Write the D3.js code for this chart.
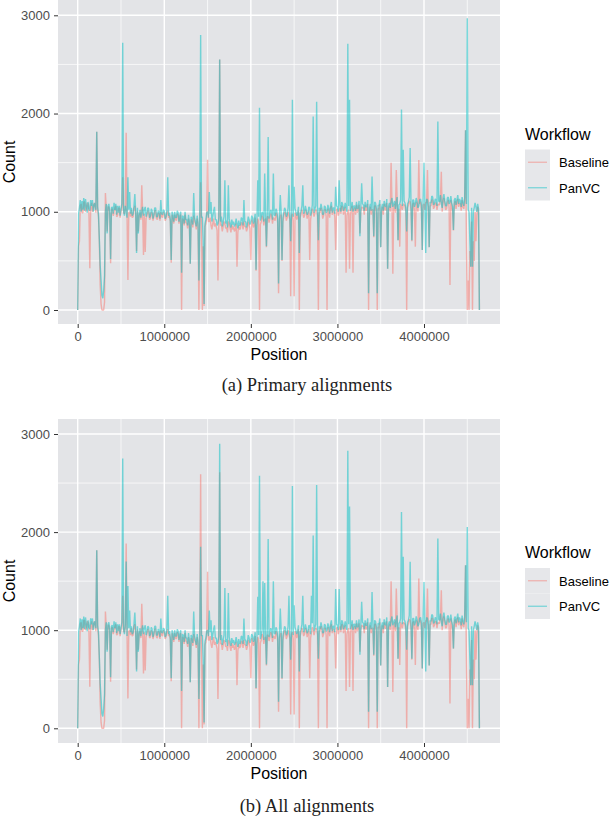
<!DOCTYPE html>
<html><head><meta charset="utf-8">
<script src="https://cdn.jsdelivr.net/npm/d3@7/dist/d3.min.js"></script>
<style>body{margin:0;background:#fff} svg{display:block}</style>
</head><body><svg id="c" width="610" height="825"></svg>
<script>
// ---- data ----
const binSize = 10000; // genome window (bp) between successive values
const seriesNames = ["Baseline", "PanVC"];
const seriesColors = ["#F8766D", "#00BFC4"];
const yTicks = [0, 1000, 2000, 3000];
const yMinor = [500, 1500, 2500];
const xTicks = [0, 1000000, 2000000, 3000000, 4000000];
const xMinor = [500000, 1500000, 2500000, 3500000, 4500000];
const captions = ["(a) Primary alignments", "(b) All alignments"];

const baselineA = [
 0, 650, 700, 1060, 1080, 990, 990, 1100, 1100, 1000, 1030, 1090, 1080, 980, 424, 1040, 1090, 1000, 1040, 1090,
 1060, 990, 1815, 1020, 950, 700, 250, 60, 0, 0, 0, 80, 1190, 1030, 800, 1050, 1050, 980, 475, 1020,
 1030, 960, 990, 1040, 1060, 950, 960, 1030, 1040, 940, 1000, 1050, 1350, 990, 980, 1030, 1805, 960, 305, 990,
 1000, 950, 1020, 940, 950, 1030, 1060, 970, 600, 1010, 800, 960, 990, 920, 1270, 1000, 560, 980, 590, 930,
 960, 1010, 1000, 920, 930, 1000, 980, 910, 950, 1010, 1010, 930, 920, 990, 980, 910, 1000, 950, 940, 1000,
 980, 910, 930, 990, 1010, 940, 960, 900, 480, 970, 930, 880, 970, 920, 910, 980, 960, 880, 930, 970,
 0, 930, 920, 860, 970, 890, 880, 830, 930, 870, 470, 920, 900, 840, 960, 900, 880, 820, 930, 860,
 0, 870, 1300, 900, 0, 650, 40, 850, 880, 940, 1530, 900, 900, 940, 860, 820, 880, 930, 850, 880,
 850, 810, 300, 880, 2550, 860, 870, 800, 850, 900, 880, 830, 840, 790, 900, 880, 830, 790, 870, 820,
 850, 800, 820, 880, 440, 790, 860, 820, 830, 890, 880, 820, 900, 850, 850, 800, 830, 900, 870, 830,
 510, 920, 890, 840, 870, 940, 400, 860, 930, 900, 0, 870, 900, 960, 940, 860, 920, 930, 640, 950,
 950, 890, 930, 980, 960, 880, 940, 930, 910, 990, 970, 890, 170, 920, 960, 970, 500, 900, 950, 1000,
 980, 910, 940, 1000, 960, 920, 140, 960, 980, 910, 140, 990, 970, 920, 950, 1010, 0, 940, 980, 1020,
 990, 940, 960, 1020, 1000, 930, 970, 1010, 510, 920, 980, 1030, 1000, 950, 990, 1020, 1010, 960, 0, 1000,
 990, 1040, 1010, 930, 960, 1020, 1020, 950, 0, 1030, 1000, 940, 1030, 1060, 970, 1000, 1010, 940, 610, 1020,
 1030, 960, 1000, 1040, 980, 1060, 1050, 970, 1010, 1050, 380, 960, 1000, 1020, 420, 970, 1030, 1060, 380, 1020,
 1040, 970, 1070, 990, 1010, 1070, 780, 1000, 1050, 1040, 1040, 970, 1070, 1010, 1020, 1080, 0, 1000, 1050, 970,
 1020, 1020, 740, 1060, 1060, 990, 0, 1030, 1030, 1080, 640, 1000, 1050, 970, 1080, 1020, 1020, 1090, 420, 1020,
 1060, 1000, 1500, 1100, 370, 1040, 1080, 990, 1425, 1110, 710, 1030, 645, 1080, 1050, 1020, 1080, 1070, 1060, 1000,
 0, 1040, 1070, 1110, 1100, 1020, 700, 1080, 1090, 1010, 645, 1100, 1070, 1000, 1527, 1080, 1100, 1030, 610, 1070,
 1080, 1020, 1100, 1090, 1425, 1010, 640, 1060, 1060, 1120, 1120, 1030, 1050, 1090, 1090, 1020, 1080, 1070, 1070, 1130,
 1408, 1000, 1100, 1140, 1080, 1020, 1030, 1100, 1120, 1040, 254, 1120, 1060, 1010, 810, 1080, 1110, 1030, 1090, 1130,
 1050, 1090, 1080, 1010, 1120, 1050, 1030, 1100, 1830, 700, 0, 300, 0, 600, 440, 900, 0, 700, 500, 1000,
 700, 960, 1050, 1000, 0
];
const panvcA = [
 0, 980, 1040, 1120, 1000, 1110, 1020, 1140, 1010, 1130, 1060, 990, 1100, 1030, 1010, 1120, 1060, 1120, 1000, 1070,
 1090, 1020, 1815, 1050, 980, 720, 450, 300, 150, 120, 200, 350, 1000, 1080, 780, 1060, 1080, 1000, 520, 1040,
 1050, 980, 1090, 1020, 1080, 970, 1060, 990, 1060, 960, 1030, 1080, 2720, 1010, 960, 1060, 1000, 940, 1350, 1020,
 1200, 980, 1040, 960, 980, 1060, 1180, 990, 580, 1040, 780, 980, 1020, 940, 1000, 1050, 960, 1020, 1050, 950,
 990, 1040, 1030, 940, 960, 1030, 1010, 930, 970, 1040, 1040, 950, 950, 1010, 1000, 930, 1120, 980, 970, 1020,
 1010, 930, 950, 1020, 1350, 960, 990, 920, 510, 1000, 960, 900, 1000, 940, 940, 1010, 990, 900, 960, 1000,
 380, 960, 950, 880, 1000, 920, 920, 860, 970, 900, 470, 950, 930, 870, 1190, 940, 900, 850, 960, 890,
 300, 900, 2800, 940, 950, 700, 60, 880, 920, 990, 1000, 940, 1200, 980, 1100, 900, 950, 1010, 1050, 920,
 920, 860, 880, 940, 2550, 900, 950, 850, 900, 950, 1320, 880, 910, 840, 1270, 930, 880, 840, 920, 870,
 900, 850, 870, 930, 880, 830, 910, 860, 870, 940, 930, 860, 1120, 900, 900, 840, 880, 950, 920, 870,
 900, 960, 940, 880, 920, 980, 410, 900, 1320, 950, 2060, 910, 950, 1000, 980, 900, 1390, 960, 650, 990,
 1760, 930, 980, 1020, 1000, 920, 1390, 970, 960, 1030, 1010, 930, 270, 960, 1170, 1000, 510, 940, 990, 1040,
 1020, 950, 970, 1040, 1270, 960, 700, 1000, 2140, 950, 1255, 1030, 1000, 960, 990, 1050, 580, 980, 1010, 1060,
 1270, 980, 1000, 1060, 1020, 970, 990, 1050, 1040, 960, 1000, 1070, 1970, 990, 1030, 1060, 2120, 1000, 710, 1040,
 1010, 1080, 1040, 970, 980, 1060, 1050, 990, 1000, 1070, 1030, 980, 1060, 1100, 990, 1040, 1040, 980, 1255, 1060,
 1050, 1000, 1320, 1070, 1000, 1100, 1080, 1010, 1040, 1090, 1040, 1000, 2710, 1060, 2140, 1010, 1050, 1100, 1000, 1060,
 1060, 1010, 1100, 1030, 1040, 1110, 750, 1040, 1290, 1080, 1070, 1010, 1100, 1050, 1050, 1120, 170, 1040, 1080, 1010,
 1360, 1060, 750, 1100, 1090, 1030, 170, 1070, 1060, 1120, 640, 1040, 1080, 1010, 1110, 1060, 1050, 1130, 420, 1060,
 1090, 1040, 1100, 1140, 1050, 1080, 1110, 1030, 1100, 1150, 710, 1070, 1080, 1120, 2040, 1060, 1630, 1110, 1090, 1040,
 800, 1080, 1100, 1150, 1650, 1060, 710, 1120, 1120, 1050, 1080, 1140, 1100, 1040, 1060, 1120, 1130, 1070, 610, 1110,
 1500, 1060, 580, 1130, 1120, 1050, 640, 1100, 1090, 1160, 1150, 1070, 1080, 1130, 1120, 1060, 1920, 1110, 1100, 1170,
 1090, 1040, 1130, 1180, 1110, 1060, 1060, 1140, 1150, 1080, 1100, 1160, 1090, 1050, 814, 1120, 1140, 1070, 1120, 1170,
 1080, 1130, 1110, 1050, 1150, 1090, 1060, 1140, 1830, 1080, 2970, 1020, 1000, 700, 440, 1040, 440, 1000, 1040, 1090,
 1050, 1000, 1080, 1030, 0
];
const baselineB = [
 0, 650, 700, 1060, 1080, 990, 990, 1100, 1100, 1000, 1030, 1090, 1080, 980, 424, 1040, 1090, 1000, 1040, 1090,
 1060, 990, 1815, 1020, 950, 700, 250, 60, 0, 0, 0, 80, 1190, 1030, 800, 1050, 1050, 980, 475, 1020,
 1030, 960, 990, 1040, 1060, 950, 960, 1030, 1040, 940, 1000, 1050, 1350, 990, 980, 1030, 1883, 960, 305, 990,
 1000, 950, 1020, 940, 950, 1030, 1060, 970, 600, 1010, 800, 960, 990, 920, 1270, 1000, 560, 980, 590, 930,
 960, 1010, 1000, 920, 930, 1000, 980, 910, 950, 1010, 1010, 930, 920, 990, 980, 910, 1000, 950, 940, 1000,
 980, 910, 930, 990, 1010, 940, 960, 900, 480, 970, 930, 880, 970, 920, 910, 980, 960, 880, 930, 970,
 0, 930, 920, 860, 970, 890, 880, 830, 930, 870, 470, 920, 900, 840, 960, 900, 880, 820, 930, 860,
 0, 870, 2590, 900, 0, 650, 40, 850, 880, 940, 1595, 900, 900, 940, 860, 820, 880, 930, 850, 880,
 850, 810, 300, 880, 2610, 860, 870, 800, 850, 900, 880, 830, 840, 790, 900, 880, 830, 790, 870, 820,
 850, 800, 820, 880, 440, 790, 860, 820, 830, 890, 880, 820, 900, 850, 850, 800, 830, 900, 870, 830,
 510, 920, 890, 840, 870, 940, 400, 860, 930, 900, 0, 870, 900, 960, 940, 860, 920, 930, 640, 950,
 950, 890, 930, 980, 960, 880, 940, 930, 910, 990, 970, 890, 170, 920, 960, 970, 500, 900, 950, 1000,
 980, 910, 940, 1000, 960, 920, 140, 960, 980, 910, 140, 990, 970, 920, 950, 1010, 0, 940, 980, 1020,
 990, 940, 960, 1020, 1000, 930, 970, 1010, 510, 920, 980, 1030, 1000, 950, 990, 1020, 1010, 960, 0, 1000,
 990, 1040, 1010, 930, 960, 1020, 1020, 950, 0, 1030, 1000, 940, 1030, 1060, 970, 1000, 1010, 940, 610, 1020,
 1030, 960, 1000, 1040, 980, 1060, 1050, 970, 1010, 1050, 380, 960, 1000, 1020, 420, 970, 1030, 1060, 380, 1020,
 1040, 970, 1070, 990, 1010, 1070, 780, 1000, 1050, 1040, 1040, 970, 1070, 1010, 1020, 1080, 0, 1000, 1050, 970,
 1020, 1020, 740, 1060, 1060, 990, 0, 1030, 1030, 1080, 640, 1000, 1050, 970, 1080, 1020, 1020, 1090, 420, 1020,
 1060, 1000, 1500, 1100, 370, 1040, 1080, 990, 1425, 1110, 710, 1030, 645, 1080, 1050, 1020, 1080, 1070, 1060, 1000,
 0, 1040, 1070, 1110, 1100, 1020, 700, 1080, 1090, 1010, 645, 1100, 1070, 1000, 1527, 1080, 1100, 1030, 610, 1070,
 1080, 1020, 1100, 1090, 1425, 1010, 640, 1060, 1060, 1120, 1120, 1030, 1050, 1090, 1090, 1020, 1080, 1070, 1070, 1130,
 1408, 1000, 1100, 1140, 1080, 1020, 1030, 1100, 1120, 1040, 254, 1120, 1060, 1010, 810, 1080, 1110, 1030, 1090, 1130,
 1050, 1090, 1080, 1010, 1120, 1050, 1030, 1100, 1663, 700, 0, 300, 0, 600, 440, 900, 0, 700, 500, 1000,
 700, 960, 1050, 1000, 0
];
const panvcB = [
 0, 980, 1040, 1120, 1000, 1110, 1020, 1140, 1010, 1130, 1060, 990, 1100, 1030, 1010, 1120, 1060, 1120, 1000, 1070,
 1090, 1020, 1815, 1050, 980, 720, 450, 300, 150, 120, 200, 350, 1000, 1080, 780, 1060, 1080, 1000, 520, 1040,
 1050, 980, 1090, 1020, 1080, 970, 1060, 990, 1060, 960, 1030, 1080, 2750, 1010, 960, 1060, 1700, 940, 1450, 1020,
 1200, 980, 1040, 960, 980, 1060, 1180, 990, 580, 1040, 780, 980, 1020, 940, 1000, 1050, 960, 1020, 1050, 950,
 990, 1040, 1030, 940, 960, 1030, 1010, 930, 970, 1040, 1040, 950, 950, 1010, 1000, 930, 1120, 980, 970, 1020,
 1010, 930, 950, 1020, 1350, 960, 990, 920, 510, 1000, 960, 900, 1000, 940, 940, 1010, 990, 900, 960, 1000,
 380, 960, 950, 880, 1000, 920, 920, 860, 970, 900, 470, 950, 930, 870, 1190, 940, 900, 850, 960, 890,
 300, 900, 1850, 940, 950, 700, 60, 880, 920, 990, 1000, 940, 1200, 980, 1100, 900, 950, 1010, 1050, 920,
 920, 860, 880, 940, 2900, 900, 950, 850, 900, 950, 1430, 880, 910, 840, 1380, 930, 880, 840, 920, 870,
 900, 850, 870, 930, 880, 830, 910, 860, 870, 940, 930, 860, 1120, 900, 900, 840, 880, 950, 920, 870,
 900, 960, 940, 880, 920, 980, 410, 900, 1340, 950, 2575, 910, 950, 1000, 1500, 900, 1480, 960, 650, 990,
 1930, 930, 980, 1020, 1000, 920, 1500, 970, 960, 1030, 1010, 930, 270, 960, 1220, 1000, 510, 940, 990, 1040,
 1020, 950, 970, 1040, 1350, 960, 700, 1000, 2470, 950, 1255, 1030, 1000, 960, 990, 1050, 580, 980, 1010, 1060,
 1350, 980, 1000, 1060, 1020, 970, 990, 1050, 1040, 960, 1350, 1070, 1965, 990, 1030, 1060, 2480, 1000, 710, 1040,
 1010, 1080, 1040, 970, 980, 1060, 1050, 990, 1000, 1070, 1030, 980, 1060, 1100, 990, 1040, 1040, 980, 1420, 1060,
 1050, 1000, 1420, 1070, 1000, 1100, 1080, 1010, 1040, 1090, 1040, 1000, 2830, 1060, 2260, 1010, 1050, 1100, 1000, 1060,
 1060, 1010, 1100, 1030, 1040, 1110, 750, 1040, 1290, 1080, 1070, 1010, 1100, 1050, 1050, 1120, 170, 1040, 1080, 1010,
 1390, 1060, 750, 1100, 1090, 1030, 170, 1070, 1060, 1120, 640, 1040, 1080, 1010, 1110, 1060, 1050, 1130, 420, 1060,
 1090, 1040, 1100, 1140, 1050, 1080, 1110, 1030, 1100, 1150, 710, 1070, 1080, 1120, 2205, 1060, 1748, 1110, 1090, 1040,
 800, 1080, 1100, 1150, 1697, 1060, 710, 1120, 1120, 1050, 1080, 1140, 1100, 1040, 1060, 1120, 1130, 1070, 610, 1110,
 1490, 1060, 580, 1130, 1120, 1050, 640, 1100, 1090, 1160, 1150, 1070, 1080, 1130, 1120, 1060, 1934, 1110, 1100, 1170,
 1090, 1040, 1130, 1180, 1110, 1060, 1060, 1140, 1150, 1080, 1100, 1160, 1090, 1050, 814, 1120, 1140, 1070, 1120, 1170,
 1080, 1130, 1110, 1050, 1150, 1090, 1060, 1140, 1663, 1080, 2053, 1020, 1000, 700, 440, 1040, 440, 1000, 1040, 1090,
 1050, 1000, 1080, 1030, 0
];

// ---- layout ----
const W = 610, H = 825;
const plotL = 58, plotR = 500;
const panels = [
  {top: 0, bottom: 324, yZero: 310, yTop: 15.3, legendY: 139.5, capY: 391, series: [baselineA, panvcA]},
  {top: 419, bottom: 743, yZero: 728.3, yTop: 434, legendY: 558, capY: 812, series: [baselineB, panvcB]}
];
const bg = "#E3E4E7";
const sans = "'Liberation Sans', Arial, Helvetica, sans-serif";
const svg = d3.select("#c");
svg.append("rect").attr("width", W).attr("height", H).attr("fill", "#fff");

const x = d3.scaleLinear().domain([0, 4000000]).range([77.7, 424]);

panels.forEach((p, pi) => {
  const y = d3.scaleLinear().domain([0, 3000]).range([p.yZero, p.yTop]);
  const g = svg.append("g");
  g.append("rect").attr("x", plotL).attr("y", p.top).attr("width", plotR - plotL)
    .attr("height", p.bottom - p.top).attr("fill", bg);
  g.selectAll(".hm").data(yMinor).join("line")
    .attr("x1", plotL).attr("x2", plotR).attr("y1", d => y(d)).attr("y2", d => y(d))
    .attr("stroke", "#fff").attr("stroke-width", 0.7);
  g.selectAll(".vm").data(xMinor).join("line")
    .attr("y1", p.top).attr("y2", p.bottom).attr("x1", d => x(d)).attr("x2", d => x(d))
    .attr("stroke", "#fff").attr("stroke-width", 0.7);
  g.selectAll(".hM").data(yTicks).join("line")
    .attr("x1", plotL).attr("x2", plotR).attr("y1", d => y(d)).attr("y2", d => y(d))
    .attr("stroke", "#fff").attr("stroke-width", 1.4);
  g.selectAll(".vM").data(xTicks).join("line")
    .attr("y1", p.top).attr("y2", p.bottom).attr("x1", d => x(d)).attr("x2", d => x(d))
    .attr("stroke", "#fff").attr("stroke-width", 1.4);

  const line = d3.line().x((d, i) => x(i * binSize)).y(d => y(d));
  p.series.forEach((s, si) => {
    g.append("path").datum(s).attr("d", line).attr("fill", "none")
      .attr("stroke", seriesColors[si]).attr("stroke-opacity", 0.5)
      .attr("stroke-width", 1.4).attr("stroke-linejoin", "bevel");
  });

  const ya = g.append("g").attr("transform", `translate(${plotL},0)`)
    .call(d3.axisLeft(y).tickValues(yTicks).tickSize(4).tickPadding(4).tickFormat(d3.format("d")));
  const xa = g.append("g").attr("transform", `translate(0,${p.bottom})`)
    .call(d3.axisBottom(x).tickValues(xTicks).tickSize(4).tickPadding(4).tickFormat(d3.format("d")));
  [ya, xa].forEach(a => {
    a.select(".domain").remove();
    a.selectAll(".tick line").attr("stroke", "#333").attr("stroke-width", 1);
    a.selectAll(".tick text").attr("fill", "#4D4D4D").style("font-family", sans).style("font-size", "13px");
  });

  g.append("text").attr("x", (plotL + plotR) / 2).attr("y", p.bottom + 36)
    .attr("text-anchor", "middle").style("font-family", sans).style("font-size", "16px")
    .attr("fill", "#000").text("Position");
  g.append("text").attr("transform", `translate(15,${(p.top + p.bottom) / 2}) rotate(-90)`)
    .attr("text-anchor", "middle").style("font-family", sans).style("font-size", "16px")
    .attr("fill", "#000").text("Count");

  const lg = g.append("g").attr("transform", `translate(525,${p.legendY})`);
  lg.append("text").attr("x", 0).attr("y", 0).style("font-family", sans).style("font-size", "16px")
    .attr("fill", "#000").text("Workflow");
  seriesNames.forEach((n, si) => {
    const ky = 10 + si * 25.5;
    lg.append("rect").attr("x", 0).attr("y", ky).attr("width", 25).attr("height", 25.5).attr("fill", "#E6E7EA");
    lg.append("line").attr("x1", 3).attr("x2", 22).attr("y1", ky + 12.75).attr("y2", ky + 12.75)
      .attr("stroke", seriesColors[si]).attr("stroke-opacity", 0.5).attr("stroke-width", 1.2);
    lg.append("text").attr("x", 34).attr("y", ky + 17.5).style("font-family", sans).style("font-size", "13px")
      .attr("fill", "#000").text(n);
  });

  svg.append("text").attr("x", 307).attr("y", p.capY).attr("text-anchor", "middle")
    .style("font-family", "'Liberation Serif', 'Times New Roman', serif").style("font-size", "18.5px")
    .attr("fill", "#222").text(captions[pi]);
});
</script></body></html>
